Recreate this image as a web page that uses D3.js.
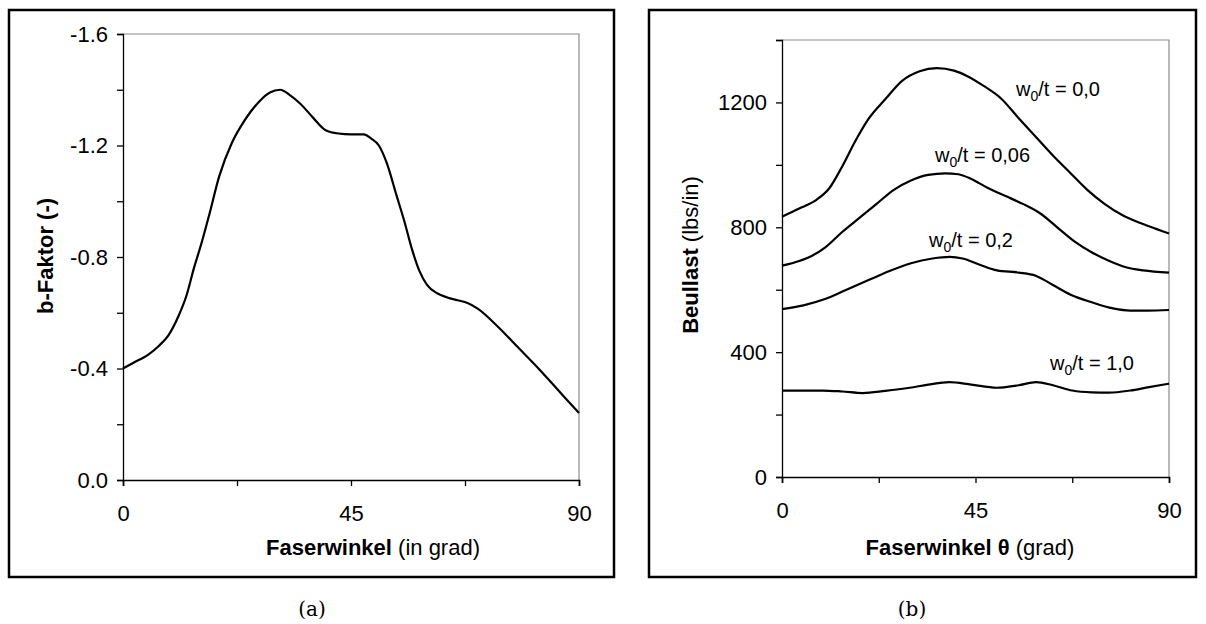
<!doctype html>
<html>
<head>
  <script src="https://cdnjs.cloudflare.com/ajax/libs/d3/7.8.5/d3.min.js"></script>
  <style>
    body { margin: 0; background: #fff; }
    svg { font-family: "Liberation Sans", Arial, sans-serif; }
    .tick text { font-size: 22px; fill: #000; font-family: "Liberation Sans", Arial, sans-serif; }
    .tick line { stroke: #000; }
    path.domain { stroke: #000; }
  </style>
</head>
<body>
  <svg id="chart" width="1206" height="624"></svg>
  <script>
    // (a) b-Faktor over Faserwinkel
    var angleA = [0, 2, 5, 7, 9, 11, 12.5, 14, 15.5, 17, 19, 21.5, 24, 27, 29, 31, 33, 35, 37.5, 40,
      42.5, 45, 47.5, 49, 50.5, 52, 54, 55.5, 57, 58.5, 60, 62, 64, 66, 68, 70, 74, 78, 82, 86, 90];
    var bFaktor = [-0.40, -0.42, -0.45, -0.48, -0.52, -0.59, -0.66, -0.76, -0.85, -0.95, -1.09, -1.21, -1.29, -1.36, -1.39, -1.40, -1.38, -1.35, -1.30, -1.255,
      -1.243, -1.24, -1.24, -1.225, -1.20, -1.14, -1.02, -0.93, -0.83, -0.75, -0.70, -0.67, -0.655, -0.645, -0.635, -0.615, -0.55, -0.475, -0.40, -0.32, -0.24];
    var yTicksA = [0, -0.2, -0.4, -0.6, -0.8, -1.0, -1.2, -1.4, -1.6];
    var yLabelsA = [0, -0.4, -0.8, -1.2, -1.6];

    // (b) Beullast over Faserwinkel, one series per w0/t
    var angleB = [0, 4, 8, 11, 14, 17, 20, 24, 28, 32, 36, 40, 43, 47, 51, 55, 59, 63, 67, 71, 75, 79, 83, 87, 90];
    var load00 = [834, 860, 888, 925, 995, 1075, 1145, 1210, 1270, 1300, 1310, 1302, 1285, 1252, 1212, 1150, 1090, 1030, 975, 920, 875, 840, 815, 795, 780];
    var angle006 = [0, 4, 7, 10, 14, 18, 22, 26, 30, 34, 38, 41, 44, 48, 52, 56, 60, 64, 68, 72, 76, 80, 84, 90];
    var load006 = [677, 692, 709, 735, 785, 830, 875, 920, 950, 968, 973, 970, 955, 925, 900, 875, 845, 800, 755, 720, 693, 672, 662, 655];
    var angle02 = [0, 5, 10, 15, 20, 25, 30, 35, 39, 42, 46, 50, 55, 59, 63, 67, 72, 77, 81, 85, 90];
    var load02 = [538, 550, 570, 600, 630, 660, 685, 700, 705, 700, 680, 662, 655, 645, 615, 585, 560, 540, 533, 533, 535];
    var angle10 = [0, 9.5, 14, 18.8, 24, 29.7, 34, 38.9, 44, 49.9, 55, 59.1, 63, 67.5, 72, 76, 81, 85, 90];
    var load10 = [277, 277, 274, 269, 276, 286, 296, 304, 296, 286, 294, 304, 294, 277, 271, 270, 277, 287, 299];
    var seriesNames = ["0,0", "0,06", "0,2", "1,0"];
    var yTicksB = [0, 200, 400, 600, 800, 1000, 1200, 1400];
    var yLabelsB = [0, 400, 800, 1200];
    var xTicks = [0, 22.5, 45, 67.5, 90];
    var xLabels = [0, 45, 90];

    var svg = d3.select("#chart");

    // outer frames
    svg.append("rect").attr("x", 9).attr("y", 10).attr("width", 605).attr("height", 567)
      .attr("fill", "none").attr("stroke", "#000").attr("stroke-width", 2.5);
    svg.append("rect").attr("x", 649).attr("y", 10).attr("width", 547).attr("height", 567)
      .attr("fill", "none").attr("stroke", "#000").attr("stroke-width", 2.5);

    function fmtX(d) { return xLabels.indexOf(d) >= 0 ? d : ""; }

    function panel(x0, x1, y0, y1, yDomain, yTicks, yLabels, fmtY) {
      var x = d3.scaleLinear().domain([0, 90]).range([x0, x1]);
      var y = d3.scaleLinear().domain(yDomain).range([y1, y0]);
      // gray plot border on top and right
      svg.append("path").attr("d", "M" + x0 + "," + y0 + "H" + x1 + "V" + y1)
        .attr("fill", "none").attr("stroke", "#8c8c8c").attr("stroke-width", 1.2);
      var xAxis = d3.axisBottom(x).tickValues(xTicks).tickSize(6).tickPadding(19).tickFormat(fmtX);
      svg.append("g").attr("transform", "translate(0," + y1 + ")").call(xAxis)
        .call(g => g.select(".domain").attr("stroke", "#555").attr("stroke-width", 1.6));
      var yAxis = d3.axisLeft(y).tickValues(yTicks).tickSize(6).tickPadding(9)
        .tickFormat(d => yLabels.indexOf(d) >= 0 ? fmtY(d) : "");
      svg.append("g").attr("transform", "translate(" + x0 + ",0)").call(yAxis)
        .call(g => g.select(".domain").attr("stroke-width", 1.3));
      svg.selectAll(".tick line").attr("stroke-width", 1.3);
      return {x: x, y: y};
    }

    // panel (a)
    var a = panel(123, 579, 34, 480, [0, -1.6], yTicksA, yLabelsA, d => d3.format(".1f")(d).replace("−", "-"));
    svg.append("path").datum(angleA.map((d, i) => [d, bFaktor[i]]))
      .attr("fill", "none").attr("stroke", "#000").attr("stroke-width", 2.2)
      .attr("d", d3.line().x(d => a.x(d[0])).y(d => a.y(d[1])).curve(d3.curveMonotoneX));

    // panel (b)
    var b = panel(782, 1169, 40, 477, [0, 1400], yTicksB, yLabelsB, d => d);
    var curves = [[angleB, load00], [angle006, load006], [angle02, load02], [angle10, load10]];
    curves.forEach(function(c) {
      svg.append("path").datum(c[0].map((d, i) => [d, c[1][i]]))
        .attr("fill", "none").attr("stroke", "#000").attr("stroke-width", 2.2)
        .attr("d", d3.line().x(d => b.x(d[0])).y(d => b.y(d[1])).curve(d3.curveMonotoneX));
    });

    // series labels
    var labelPos = [[1016, 96], [935, 162], [929, 247], [1050, 370]];
    seriesNames.forEach(function(n, i) {
      var t = svg.append("text").attr("x", labelPos[i][0]).attr("y", labelPos[i][1])
        .attr("font-size", 20);
      t.append("tspan").text("w");
      t.append("tspan").attr("font-size", 14).attr("dy", 5).text("0");
      t.append("tspan").attr("dy", -5).text("/t = " + n);
    });

    // axis titles
    var tA = svg.append("text").attr("x", 373).attr("y", 555).attr("text-anchor", "middle").attr("font-size", 22);
    tA.append("tspan").attr("font-weight", "bold").text("Faserwinkel");
    tA.append("tspan").text(" (in grad)");
    var tB = svg.append("text").attr("x", 970).attr("y", 555).attr("text-anchor", "middle").attr("font-size", 22);
    tB.append("tspan").attr("font-weight", "bold").text("Faserwinkel θ");
    tB.append("tspan").text(" (grad)");

    svg.append("text").attr("transform", "translate(53,256) rotate(-90)").attr("text-anchor", "middle")
      .attr("font-size", 22).attr("font-weight", "bold").text("b-Faktor (-)");
    var yB = svg.append("text").attr("transform", "translate(698,255) rotate(-90)").attr("text-anchor", "middle")
      .attr("font-size", 22);
    yB.append("tspan").attr("font-weight", "bold").text("Beullast");
    yB.append("tspan").text(" (lbs/in)");

    // captions
    svg.append("text").attr("x", 312).attr("y", 616).attr("text-anchor", "middle")
      .attr("font-family", "DejaVu Serif, serif").attr("font-size", 20).text("(a)");
    svg.append("text").attr("x", 912).attr("y", 616).attr("text-anchor", "middle")
      .attr("font-family", "DejaVu Serif, serif").attr("font-size", 20).text("(b)");
  </script>
</body>
</html>
